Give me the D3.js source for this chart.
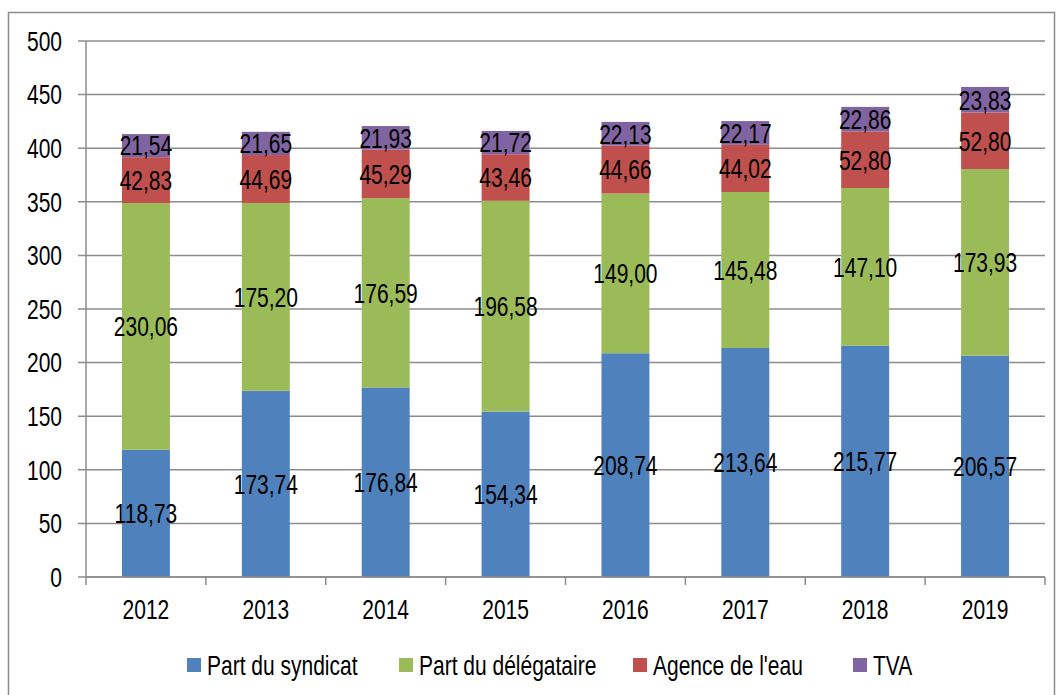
<!DOCTYPE html>
<html>
<head>
<meta charset="utf-8">
<script src="https://cdn.jsdelivr.net/npm/d3@7"></script>
<style>
  body { margin: 0; background: #fff; }
  text { font-family: "Liberation Sans", Arial, sans-serif; fill: #000; font-size: 21px; }
</style>
</head>
<body>
<div id="chart"></div>
<script>
const years = ["2012", "2013", "2014", "2015", "2016", "2017", "2018", "2019"];
const seriesNames = ["Part du syndicat", "Part du délégataire", "Agence de l'eau", "TVA"];
const syndicat = [118.73, 173.74, 176.84, 154.34, 208.74, 213.64, 215.77, 206.57];
const delegataire = [230.06, 175.20, 176.59, 196.58, 149.00, 145.48, 147.10, 173.93];
const agence = [42.83, 44.69, 45.29, 43.46, 44.66, 44.02, 52.80, 52.80];
const tva = [21.54, 21.65, 21.93, 21.72, 22.13, 22.17, 22.86, 23.83];
const yTicks = [0, 50, 100, 150, 200, 250, 300, 350, 400, 450, 500];
const colors = ["#4F81BD", "#9BBB59", "#C0504D", "#8064A2"];

const W = 1064, H = 695;
const margin = { top: 41, right: 19, bottom: 118, left: 86 },
  width = W - margin.left - margin.right,
  height = H - margin.top - margin.bottom;

// the original text is drawn taller than it is wide
const stretch = 1.3;
const place = (x, y) => `translate(${x}, ${y}) scale(1, ${stretch})`;

// one row per year for d3.stack
const keys = ["syndicat", "delegataire", "agence", "tva"];
const rows = years.map((y, i) => ({
  year: y,
  syndicat: syndicat[i],
  delegataire: delegataire[i],
  agence: agence[i],
  tva: tva[i]
}));

const svg = d3.select("#chart")
  .append("svg")
  .attr("width", W)
  .attr("height", H);

// outer frame
svg.append("rect")
  .attr("x", 8.5).attr("y", 12.5)
  .attr("width", 1046).attr("height", 700)
  .attr("fill", "none")
  .attr("stroke", "#8c8c8c")
  .attr("stroke-width", 1.5);

const g = svg.append("g")
  .attr("transform", `translate(${margin.left}, ${margin.top})`);

var xScale = d3.scaleBand().domain(years).range([0, width]).paddingInner(0.6).paddingOuter(0.3);
var yScale = d3.scaleLinear().domain([0, 500]).range([height, 0]);

// gridlines + y ticks
g.selectAll(".grid")
  .data(yTicks)
  .enter()
  .append("line")
  .attr("x1", -8)
  .attr("x2", width)
  .attr("y1", (d) => yScale(d))
  .attr("y2", (d) => yScale(d))
  .attr("stroke", "#8c8c8c")
  .attr("stroke-width", 1.5);

g.selectAll(".ylab")
  .data(yTicks)
  .enter()
  .append("text")
  .attr("transform", (d) => place(-24, yScale(d)))
  .attr("dy", "0.36em")
  .attr("text-anchor", "end")
  .text((d) => d);

// bars
const stacked = d3.stack().keys(keys)(rows);
const layers = g.selectAll(".layer")
  .data(stacked)
  .enter()
  .append("g")
  .attr("fill", (d, i) => colors[i]);

layers.selectAll("rect")
  .data((d) => d)
  .enter()
  .append("rect")
  .attr("x", (d) => xScale(d.data.year))
  .attr("width", xScale.bandwidth())
  .attr("y", (d) => yScale(d[1]))
  .attr("height", (d) => yScale(d[0]) - yScale(d[1]));

// value labels in the middle of each segment
layers.selectAll("text")
  .data((d) => d)
  .enter()
  .append("text")
  .attr("transform", (d) => place(xScale(d.data.year) + xScale.bandwidth() / 2, yScale((d[0] + d[1]) / 2)))
  .attr("dy", "0.36em")
  .attr("text-anchor", "middle")
  .text((d) => d3.format(".2f")(d[1] - d[0]).replace(".", ","));

// x axis line and boundary ticks
g.append("line")
  .attr("x1", 0).attr("x2", width)
  .attr("y1", height).attr("y2", height)
  .attr("stroke", "#8c8c8c")
  .attr("stroke-width", 1.5);

g.append("line")
  .attr("x1", 0).attr("x2", 0)
  .attr("y1", 0).attr("y2", height + 8)
  .attr("stroke", "#8c8c8c")
  .attr("stroke-width", 1.5);

const step = xScale.step();
g.selectAll(".xtick")
  .data(years)
  .enter()
  .append("line")
  .attr("x1", (d, i) => (i + 1) * step)
  .attr("x2", (d, i) => (i + 1) * step)
  .attr("y1", height)
  .attr("y2", height + 8)
  .attr("stroke", "#8c8c8c")
  .attr("stroke-width", 1.5);

g.selectAll(".xlab")
  .data(years)
  .enter()
  .append("text")
  .attr("transform", (d) => place(xScale(d) + xScale.bandwidth() / 2, height + 32))
  .attr("dy", "0.36em")
  .attr("text-anchor", "middle")
  .text((d) => d);

// legend
const legendX = [187, 399, 633, 853];
const legend = svg.selectAll(".legend")
  .data(seriesNames)
  .enter()
  .append("g")
  .attr("transform", (d, i) => `translate(${legendX[i]}, 665)`);

legend.append("rect")
  .attr("x", 0).attr("y", -7)
  .attr("width", 14).attr("height", 14)
  .attr("fill", (d, i) => colors[i]);

legend.append("text")
  .attr("transform", place(20, 0))
  .attr("dy", "0.36em")
  .text((d) => d);
</script>
</body>
</html>
